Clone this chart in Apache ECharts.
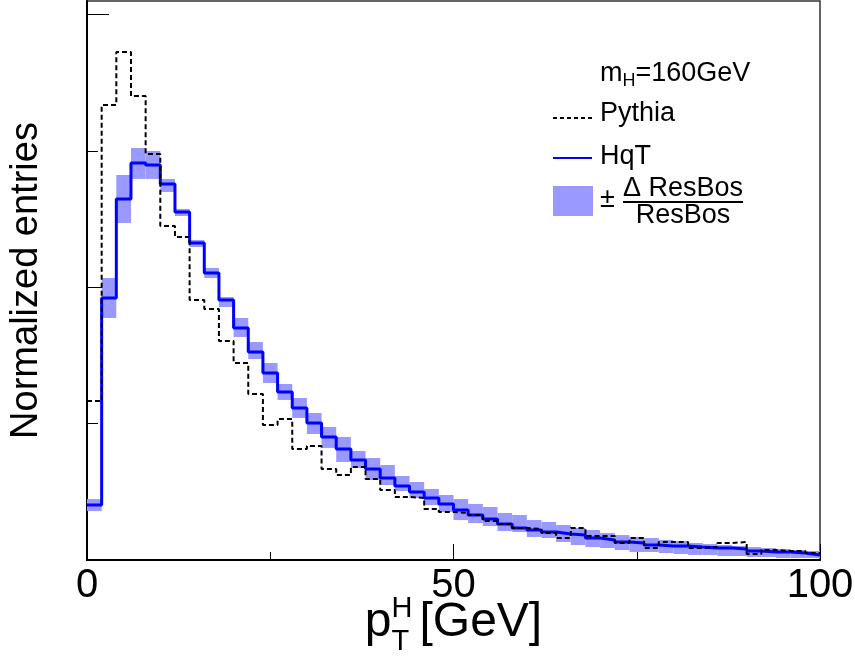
<!DOCTYPE html>
<html><head><meta charset="utf-8">
<script src="https://cdn.jsdelivr.net/npm/echarts@6/dist/echarts.min.js"></script>
<style>html,body{margin:0;padding:0;background:#fff}#c{width:855px;height:661px}</style>
</head><body><div id="c"></div>
<script>
// ---- data ----
const binLow = [0,2,4,6,8,10,12,14,16,18,20,22,24,26,28,30,32,34,36,38,40,42,44,46,48,50,52,54,56,58,60,62,64,66,68,70,72,74,76,78,80,82,84,86,88,90,92,94,96,98];
const binWidth = 2;
const hqt = [4.03,19.22,26.48,29.12,28.97,27.58,25.53,23.25,21.05,19.07,17.02,15.26,13.72,12.32,11.15,10.05,9.02,8.14,7.34,6.67,6.01,5.43,4.99,4.55,4.11,3.67,3.30,3.01,2.64,2.35,2.20,2.05,1.91,1.83,1.61,1.47,1.32,1.25,1.10,1.03,1.03,0.95,0.88,0.88,0.81,0.66,0.59,0.59,0.51,0.37];
const pythia = [11.66,33.37,37.26,34.03,29.78,24.50,23.69,19.07,18.41,16.06,14.45,12.18,9.90,10.34,8.14,8.36,6.67,6.23,6.82,5.94,5.13,4.62,4.55,3.74,3.52,3.45,3.30,2.86,2.64,2.35,2.27,1.98,1.61,2.35,1.76,1.76,1.25,1.61,0.88,1.32,1.32,0.88,0.95,1.25,1.32,0.44,0.73,0.66,0.66,0.51];
const resbosHigh = [4.47,20.68,28.24,30.22,30.00,27.95,25.75,23.47,21.42,19.29,17.75,15.99,14.45,12.91,11.88,10.78,9.76,9.02,8.00,7.48,6.97,6.16,5.72,5.21,4.77,4.47,4.11,3.89,3.45,3.30,2.93,2.79,2.57,2.35,2.20,1.98,1.83,1.69,1.61,1.47,1.39,1.25,1.17,1.10,1.03,0.95,0.88,0.81,0.73,0.66];
const resbosLow = [3.59,17.75,24.72,27.95,27.95,26.99,25.23,22.96,20.68,18.56,16.36,14.74,12.98,11.74,10.42,9.24,8.22,7.19,6.75,5.87,5.50,5.06,4.55,4.03,3.52,2.93,2.71,2.49,2.13,2.05,1.69,1.61,1.32,1.10,0.95,0.88,0.73,0.59,0.59,0.51,0.44,0.37,0.37,0.29,0.29,0.22,0.22,0.15,0.15,0.15];
const xMajorTicks = [0,50,100];
const yMajorTicks = [0,20,40];
const yMinorTicks = [10,30];

// ---- build ----
const FF = '"Liberation Sans", Arial, Helvetica, sans-serif';
const ctx = document.createElement('canvas').getContext('2d');
function tw(t, s){ ctx.font = s + 'px ' + FF; return ctx.measureText(t).width; }

function stepData(vals){
  const d = binLow.map((x,i)=>[x, vals[i]]);
  d.push([binLow[binLow.length-1] + binWidth, vals[vals.length-1]]);
  return d;
}
const bandData = binLow.map((x,i)=>[x, resbosLow[i], resbosHigh[i]]);

const chart = echarts.init(document.getElementById('c'), null, {renderer:'canvas'});

// x title p_T^H [GeV]
const tfs = 48, sfs = 29;
const wp = tw('p', tfs), wsub = Math.max(tw('H', sfs), tw('T', sfs)), wrest = tw('[GeV]', tfs);
const gap = 7;
const totalW = wp + wsub + gap + wrest;
const tx0 = 453.5 - totalW/2;
// legend m_H=160GeV
const lfs = 27, lsfs = 18;
const lx = 600;
const wm = tw('m', lfs), wH = tw('H', lsfs);
const fracW = tw('\u0394 ResBos', lfs);

const graphics = [
  {type:'text', x: tx0, y: 623, style:{text:'p', font: tfs+'px '+FF, fill:'#000', textAlign:'left', textVerticalAlign:'middle'}},
  {type:'text', x: tx0 + wp, y: 609, style:{text:'H', font: sfs+'px '+FF, fill:'#000', textAlign:'left', textVerticalAlign:'middle'}},
  {type:'text', x: tx0 + wp, y: 642, style:{text:'T', font: sfs+'px '+FF, fill:'#000', textAlign:'left', textVerticalAlign:'middle'}},
  {type:'text', x: tx0 + wp + wsub + gap, y: 623, style:{text:'[GeV]', font: tfs+'px '+FF, fill:'#000', textAlign:'left', textVerticalAlign:'middle'}},
  // legend
  {type:'text', x: lx, y: 74, style:{text:'m', font: lfs+'px '+FF, fill:'#000', textAlign:'left', textVerticalAlign:'middle'}},
  {type:'text', x: lx + wm, y: 81, style:{text:'H', font: lsfs+'px '+FF, fill:'#000', textAlign:'left', textVerticalAlign:'middle'}},
  {type:'text', x: lx + wm + wH, y: 74, style:{text:'=160GeV', font: lfs+'px '+FF, fill:'#000', textAlign:'left', textVerticalAlign:'middle'}},
  {type:'line', shape:{x1:553, y1:118, x2:592, y2:118}, style:{stroke:'#000', lineWidth:2, lineDash:[4,3]}},
  {type:'text', x: lx, y: 114, style:{text:'Pythia', font: lfs+'px '+FF, fill:'#000', textAlign:'left', textVerticalAlign:'middle'}},
  {type:'line', shape:{x1:553, y1:158, x2:592, y2:158}, style:{stroke:'#0000ff', lineWidth:2}},
  {type:'text', x: lx, y: 157, style:{text:'HqT', font: lfs+'px '+FF, fill:'#000', textAlign:'left', textVerticalAlign:'middle'}},
  {type:'rect', shape:{x:553, y:186, width:40, height:30}, style:{fill:'#9999ff'}},
  {type:'text', x: lx, y: 200, style:{text:'\u00b1', font: lfs+'px '+FF, fill:'#000', textAlign:'left', textVerticalAlign:'middle'}},
  {type:'text', x: 623, y: 189, style:{text:'\u0394 ResBos', font: lfs+'px '+FF, fill:'#000', textAlign:'left', textVerticalAlign:'middle'}},
  {type:'line', shape:{x1:623, y1:202, x2:623 + fracW, y2:202}, style:{stroke:'#000', lineWidth:2}},
  {type:'text', x: 623 + fracW/2, y: 216, style:{text:'ResBos', font: lfs+'px '+FF, fill:'#000', textAlign:'center', textVerticalAlign:'middle'}}
];

const yCommon = {
  type:'value', min:0, max:41, position:'left',
  axisLine:{show:false}, axisLabel:{show:false}, splitLine:{show:false}
};

chart.setOption({
  animation:false,
  backgroundColor:'#fff',
  grid:{left:87, top:1, width:733, height:559, outerBoundsMode:'none', containLabel:false,
    show:true, borderColor:'#333', borderWidth:1.5, backgroundColor:'transparent'},
  xAxis:{
    type:'value', min:0, max:100, interval:50,
    axisLine:{show:true, onZero:false, lineStyle:{color:'#000', width:2}},
    axisTick:{show:true, inside:true, length:16, lineStyle:{color:'#000', width:1}},
    minorTick:{show:true, splitNumber:2, length:8, lineStyle:{color:'#000', width:1}},
    axisLabel:{show:true, color:'#000', fontSize:40, fontFamily:FF, margin:6,
      formatter:(v)=> xMajorTicks.includes(v) ? String(v) : ''},
    splitLine:{show:false}, minorSplitLine:{show:false}
  },
  yAxis:[
    Object.assign({}, yCommon, {
      axisLine:{show:true, lineStyle:{color:'#000', width:2}},
      axisTick:{show:true, inside:true, length:22, customValues: yMajorTicks, lineStyle:{color:'#000', width:1}},
      name:'Normalized entries', nameLocation:'middle', nameGap:41, nameRotate:90,
      nameTextStyle:{fontSize:38, fontFamily:FF, color:'#000'}
    }),
    Object.assign({}, yCommon, {
      axisTick:{show:true, inside:true, length:11, customValues: yMinorTicks, lineStyle:{color:'#000', width:1}}
    })
  ],
  series:[
    {
      type:'custom', name:'ResBos band', xAxisIndex:0, yAxisIndex:0, clip:true, z:1,
      data: bandData,
      renderItem:(params, api)=>{
        const x0 = api.value(0), lo = api.value(1), hi = api.value(2);
        const p0 = api.coord([x0, hi]);
        const p1 = api.coord([x0 + binWidth, lo]);
        return {type:'rect', shape:{x:p0[0], y:p0[1], width:p1[0]-p0[0], height:p1[1]-p0[1]},
          style:{fill:'#9999ff'}};
      }
    },
    {
      type:'line', name:'HqT', step:'end', data: stepData(hqt), symbol:'none', z:3,
      lineStyle:{color:'#0000ff', width:3}
    },
    {
      type:'line', name:'Pythia', step:'end', data: stepData(pythia), symbol:'none', z:4,
      lineStyle:{color:'#000', width:2, type:[5,3]}
    }
  ],
  graphic: graphics
});
</script>
</body></html>
